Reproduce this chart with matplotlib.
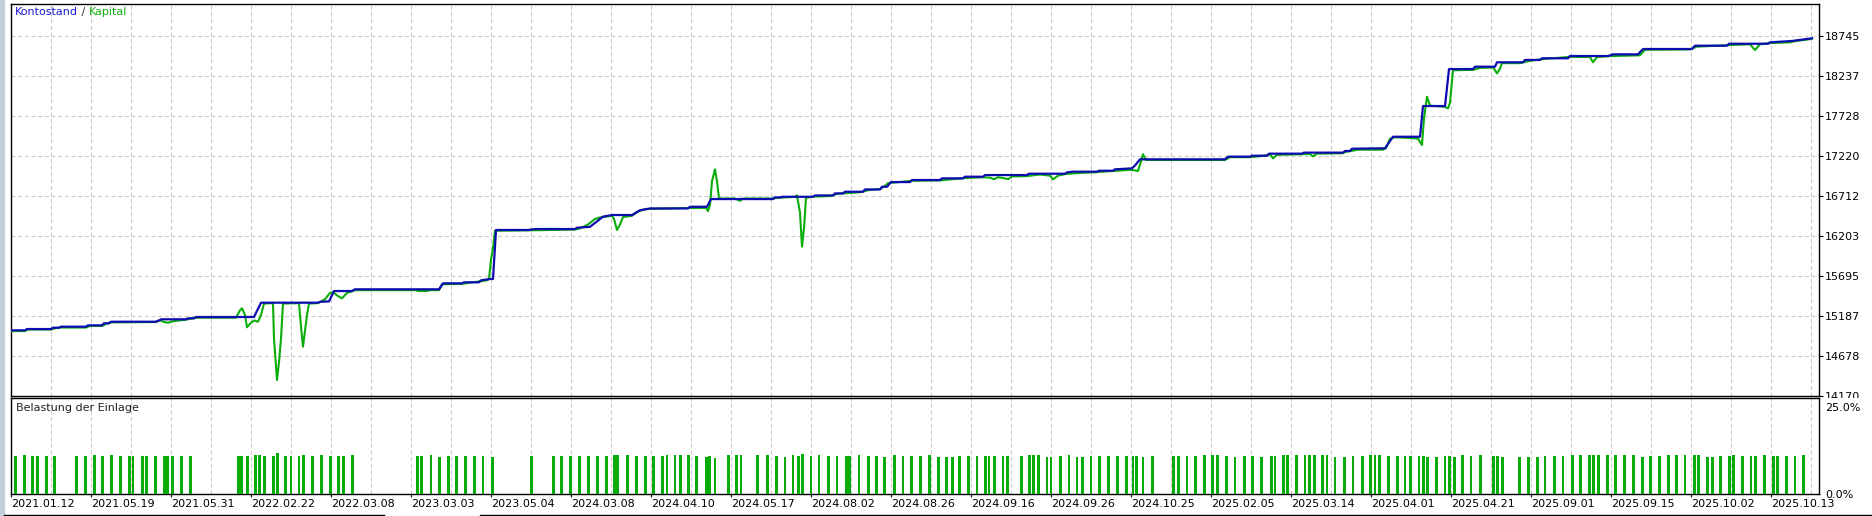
import numpy as np
import matplotlib
matplotlib.use('Agg')
import matplotlib.pyplot as plt
from matplotlib.transforms import Bbox, TransformedBbox

# x axis = deal sequence (MT5 tester draws deals evenly, not by time)
balance_x = [0, 3.5, 4, 10, 10.5, 12, 12.5, 18.75, 19.25, 22.75, 23.25, 24.5, 25,
             36.25, 36.75, 37, 37.5, 43.75, 44.25, 45.75, 46.25, 60.75, 62.5,
             76.75, 77.25, 79.5, 80.75, 85.25, 86, 107, 108, 112.75, 113.25, 117,
             117.5, 119.75, 120.5, 121.25, 129.25, 131, 141, 141.5, 144.75, 148,
             150.25, 155.25, 157.25, 159.75, 169.25, 169.75, 174, 175, 190.5, 191,
             192.5, 192.75, 200.5, 201, 205.5, 206, 208, 208.5, 213, 213.5, 217.25,
             217.75, 219, 220, 224.75, 225.25, 232.25, 232.75, 238, 238.5, 243,
             243.5, 254, 254.5, 263.5, 264, 265.5, 271.5, 272, 275.5, 276, 280.25,
             281, 282.25, 303.5, 304.25, 309.75, 310.25, 314, 314.5, 322.75, 323.25,
             333, 333.5, 334.75, 335.25, 343.5, 345.5, 352.25, 353, 358.5, 359.5,
             365.5, 366, 371, 371.5, 378, 378.5, 382.25, 382.75, 389.25, 389.75,
             399.25, 400.5, 406.75, 408, 420.25, 421, 429, 429.5, 439.25, 439.75,
             445.25, 448.5, 450.25]
balance = [15005, 15005, 15021, 15021, 15038, 15038, 15051, 15051, 15068, 15068, 15094,
           15094, 15114, 15114, 15127, 15127, 15145, 15145, 15157, 15157, 15174, 15174,
           15356, 15356, 15367, 15372, 15504, 15504, 15526, 15526, 15602, 15602, 15615,
           15615, 15640, 15657, 15657, 16280, 16280, 16292, 16292, 16309, 16320, 16449,
           16470, 16470, 16530, 16554, 16554, 16575, 16575, 16673, 16673, 16694, 16694,
           16702, 16702, 16719, 16719, 16745, 16745, 16766, 16766, 16795, 16795, 16829,
           16829, 16889, 16889, 16915, 16915, 16936, 16936, 16957, 16957, 16978, 16978,
           16995, 16995, 17012, 17021, 17021, 17033, 17033, 17051, 17063, 17100, 17178,
           17178, 17212, 17212, 17224, 17224, 17250, 17250, 17263, 17263, 17284, 17284,
           17313, 17318, 17465, 17465, 17855, 17855, 18325, 18325, 18355, 18355, 18411,
           18411, 18441, 18441, 18462, 18462, 18491, 18491, 18512, 18512, 18580, 18580,
           18622, 18622, 18647, 18647, 18665, 18682, 18704, 18716]

equity_x = [0, 3.5, 4.25, 10, 11, 12.25, 18.75, 19.75, 22.75, 23.75, 24.75, 36.25, 37.25,
            38, 39.25, 40.5, 43.75, 44.75, 46.25, 56.25, 57.25, 57.75, 58.5, 59, 60,
            60.75, 61.75, 62.5, 63.25, 65.5, 65.75, 66.5, 67, 67.5, 68, 72, 72.5, 73,
            73.5, 74, 74.5, 76.75, 78.5, 79.75, 80.5, 81.75, 82.75, 84, 85.25, 86,
            101.25, 101.75, 104, 104.75, 107, 107.75, 112.75, 114.75, 119, 119.5, 120,
            120.5, 121, 129.25, 141, 142.25, 144.25, 146, 147.25, 150.25, 150.75, 151.5,
            152.25, 153, 155.25, 156.5, 158.5, 169.75, 173.75, 174.25, 174.75, 175.25,
            176, 176.5, 177, 181, 182.25, 183, 190.25, 192.25, 196, 196.5, 197.25,
            197.75, 198.25, 198.75, 201, 204.75, 206.75, 212.25, 214.75, 217.25, 218.25,
            219.25, 225.25, 232.25, 238.5, 243, 244.75, 245.75, 246.75, 248, 249.25,
            250.25, 254, 257.25, 259.75, 260.5, 261.75, 263.5, 267.25, 271.5, 275.5,
            279.75, 281.25, 281.75, 282.5, 283, 283.75, 303.5, 304.75, 309.75, 312.75,
            314.75, 315.5, 316.5, 324.75, 325.5, 326.5, 333, 333.5, 336.75, 343, 343.75,
            344.75, 346, 349.75, 351.75, 352.25, 352.75, 353.25, 354, 354.75, 358.5,
            359.25, 359.75, 360.5, 365.5, 367.25, 370.5, 371, 371.5, 372.25, 372.75,
            377.25, 379.75, 383.5, 389.75, 394.75, 395.5, 396.5, 399.75, 407.25, 408.5,
            419.75, 421.5, 429.75, 434.75, 436, 437.25, 439.75, 444.75, 446, 449.75,
            450.25]
equity = [14995, 14995, 15015, 15015, 15030, 15040, 15040, 15060, 15060, 15085, 15105,
          15110, 15135, 15114, 15101, 15120, 15140, 15150, 15165, 15165, 15260, 15284,
          15200, 15043, 15100, 15130, 15114, 15200, 15345, 15350, 14900, 14373, 14600,
          14900, 15345, 15350, 15050, 14797, 15000, 15200, 15345, 15350, 15400, 15480,
          15490, 15440, 15411, 15480, 15500, 15515, 15515, 15505, 15505, 15515, 15515,
          15590, 15595, 15610, 15640, 15660, 15900, 16050, 16270, 16275, 16285, 16300,
          16350, 16420, 16440, 16460, 16420, 16280, 16350, 16445, 16460, 16510, 16545,
          16560, 16560, 16520, 16600, 16900, 17051, 16900, 16680, 16680, 16650, 16680,
          16680, 16690, 16700, 16720, 16500, 16068, 16300, 16690, 16705, 16710, 16740,
          16760, 16790, 16800, 16830, 16875, 16905, 16910, 16940, 16950, 16945, 16925,
          16950, 16940, 16925, 16960, 16965, 16985, 16970, 16923, 16970, 16990, 17005,
          17015, 17030, 17045, 17035, 17029, 17150, 17242, 17170, 17170, 17205, 17205,
          17220, 17238, 17190, 17235, 17245, 17215, 17250, 17255, 17270, 17300, 17300,
          17320, 17440, 17458, 17450, 17440, 17400, 17360, 17700, 17973, 17860, 17845,
          17825, 17900, 18310, 18315, 18340, 18345, 18310, 18270, 18330, 18400, 18400,
          18430, 18455, 18480, 18478, 18411, 18478, 18490, 18500, 18570, 18575, 18610,
          18630, 18640, 18567, 18640, 18655, 18665, 18680, 18705, 18712]

# deposit load, percent
load_x = [1.2, 3.4, 5.3, 6.7, 8.8, 10.9, 16.3, 18.6, 20.9, 22.9, 25.1, 27.4, 29.6, 30.5,
          32.8, 33.9, 36.1, 38.3, 39.2, 40.3, 42.6, 44.9, 56.8, 57.6, 59.2, 61.1, 62.2,
          63.3, 65.6, 66.7, 68.7, 70.0, 72.0, 73.2, 75.4, 77.6, 79.9, 81.9, 83.2, 85.4,
          101.6, 102.6, 105.0, 107.2, 109.3, 111.3, 113.6, 115.8, 118.0, 120.4, 130.1,
          135.7, 137.7, 139.9, 142.1, 144.4, 146.6, 148.8, 150.8, 151.7, 154.2, 156.4,
          158.6, 160.7, 162.9, 164.0, 166.0, 167.4, 169.4, 171.4, 173.8, 174.7, 176.0,
          179.3, 181.4, 182.5, 186.7, 189.1, 191.3, 193.5, 195.5, 196.8, 197.9, 200.0,
          202.0, 204.3, 206.5, 208.8, 209.7, 212.0, 214.3, 216.3, 218.4, 220.8, 223.0,
          225.1, 227.3, 229.6, 231.8, 233.8, 235.3, 237.2, 239.4, 241.5, 243.6, 244.5,
          245.8, 248.0, 249.1, 252.6, 254.6, 255.7, 256.8, 259.0, 260.0, 262.3, 264.5,
          266.5, 267.8, 270.0, 272.1, 274.3, 276.6, 278.8, 280.5, 281.3, 283.0, 285.3,
          290.7, 291.8, 294.0, 296.2, 298.3, 300.3, 301.7, 303.9, 306.0, 308.3, 310.4,
          312.6, 315.1, 316.0, 318.2, 319.1, 321.4, 323.5, 324.7, 325.8, 327.9, 329.0,
          331.0, 333.3, 335.5, 337.8, 339.8, 341.0, 342.1, 344.3, 346.6, 348.5, 349.8,
          352.0, 353.1, 354.1, 356.3, 358.5, 359.6, 360.8, 362.8, 365.0, 367.3, 370.6,
          371.6, 372.8, 377.1, 379.3, 381.6, 383.5, 385.8, 388.0, 390.3, 392.3, 394.6,
          395.6, 396.8, 399.1, 401.2, 403.3, 405.6, 407.8, 409.8, 412.1, 414.3, 416.4,
          418.5, 420.8, 421.8, 424.1, 425.3, 427.3, 429.6, 430.6, 432.8, 435.0, 436.1,
          438.3, 440.6, 441.6, 443.8, 446.0, 448.1]
load_pct = [9.9, 10.2, 9.9, 9.9, 9.9, 9.9, 9.9, 9.9, 10.2, 9.9, 10.2, 9.9, 9.9, 9.9,
            9.9, 9.9, 9.9, 9.9, 9.9, 9.9, 9.9, 9.9, 9.9, 9.9, 9.9, 10.2, 10.2,
            9.9, 9.9, 10.7, 9.9, 9.9, 9.9, 10.2, 9.9, 10.2, 9.9, 9.9, 9.9, 10.2,
            9.9, 9.9, 10.2, 9.6, 9.9, 9.9, 9.9, 9.9, 9.9, 9.6, 9.9,
            9.9, 9.9, 9.9, 9.9, 9.9, 9.9, 9.9, 10.2, 10.2, 10.2, 9.9,
            9.9, 9.9, 9.9, 10.2, 10.2, 10.2, 10.2, 9.9, 9.6, 9.9, 9.4,
            10.1, 10.1, 10.1, 10.1, 10.1, 9.9, 9.6, 10.1, 9.9, 10.4, 9.9,
            10.1, 9.9, 9.9, 9.9, 9.9, 10.1, 9.9, 9.9, 9.6, 10.1, 9.9,
            9.9, 9.9, 10.1, 9.6, 9.6, 9.6, 9.9, 9.9, 9.9, 9.9, 9.9,
            9.9, 9.9, 9.9, 9.9, 10.1, 10.1, 10.1, 9.6, 9.6, 9.9, 10.1,
            9.6, 9.6, 9.9, 9.9, 9.9, 9.9, 9.9, 9.9, 9.9, 9.6, 9.9,
            9.9, 9.9, 9.9, 9.9, 10.1, 10.1, 10.1, 9.9, 9.6, 9.9, 9.9,
            9.6, 9.9, 9.9, 10.1, 10.1, 10.1, 10.1, 10.1, 10.1, 10.1, 10.1,
            9.6, 9.6, 9.9, 9.9, 10.1, 10.1, 10.1, 9.9, 9.9, 9.9, 9.9,
            9.9, 9.9, 9.6, 9.6, 9.9, 9.9, 9.6, 10.1, 9.9, 10.1, 9.9,
            9.9, 9.6, 9.6, 9.6, 9.6, 9.9, 9.9, 9.9, 10.1, 10.1, 10.1,
            10.1, 10.1, 10.1, 10.1, 10.1, 10.1, 9.6, 9.9, 9.9, 10.1, 10.1,
            10.1, 10.1, 10.1, 9.6, 9.6, 9.9, 9.9, 10.1, 9.9, 9.9, 9.9,
            10.1, 9.9, 9.9, 9.9, 9.9, 10.1]

date_labels = ['2021.01.12', '2021.05.19', '2021.05.31', '2022.02.22', '2022.03.08',
               '2023.03.03', '2023.05.04', '2024.03.08', '2024.04.10', '2024.05.17',
               '2024.08.02', '2024.08.26', '2024.09.16', '2024.09.26', '2024.10.25',
               '2025.02.05', '2025.03.14', '2025.04.01', '2025.04.21', '2025.09.01',
               '2025.09.15', '2025.10.02', '2025.10.13']
value_ticks = [14170, 14678, 15187, 15695, 16203, 16712, 17220, 17728, 18237, 18745]

BLUE = '#0c0cb0'
GREEN = '#0aad0a'
GRID = '#c8c8c8'
W, H = 1872, 516

plt.rcParams['font.family'] = ['DejaVu Sans']
fig = plt.figure(figsize=(W / 100, H / 100), dpi=100)

# left strip of the terminal window and the tab bar line at the bottom
fig.patches.append(plt.Rectangle((0, 0), 4 / W, 1, transform=fig.transFigure,
                                 color='#c3cedb', zorder=0))
fig.add_artist(plt.Line2D([4 / W, 384 / W], [1.5 / H, 1.5 / H], color='black', lw=1))
fig.add_artist(plt.Line2D([480 / W, 1], [1.5 / H, 1.5 / H], color='black', lw=1))

ax = fig.add_axes([11 / W, 1 - 396 / H, 1808 / W, 392 / H])
ax2 = fig.add_axes([11 / W, 1 - 494 / H, 1808 / W, 96 / H])

xmax = 452
grid_kw = dict(color=GRID, linestyle=(0, (3.8, 2.6)), linewidth=0.75)

# top panel: balance / equity
ax.plot(equity_x, equity, color=GREEN, lw=1.5, zorder=3)
ax.plot(balance_x, balance, color=BLUE, lw=1.6, zorder=4)
ax.set_xlim(0, xmax)
ax.set_ylim(14170, 19152)
ax.set_xticks(np.arange(10, xmax, 10))
ax.set_yticks(value_ticks, [str(v) for v in value_ticks])
ax.yaxis.tick_right()
ax.tick_params(axis='x', length=0, labelbottom=False)
ax.tick_params(axis='y', direction='out', length=3, width=0.8, pad=1.5, labelsize=8)
ax.grid(True, **grid_kw)
ax.set_axisbelow(True)

t1 = ax.annotate('Kontostand', xy=(0, 1), xycoords='axes fraction', xytext=(3, -2.5),
                 textcoords='offset points', ha='left', va='top', fontsize=8, color='#1a1ad0')
t2 = ax.annotate(' / ', xy=(1, 0), xycoords=t1, ha='left', va='bottom', fontsize=8,
                 color='#333333')
ax.annotate('Kapital', xy=(1, 0), xycoords=t2, ha='left', va='bottom', fontsize=8,
            color='#10b010')

# lowest value label is cut off by the lower panel
lab = ax.get_yticklabels()[0]
lab.set_clip_box(TransformedBbox(Bbox.from_extents(0, 1 - 398 / H, 1, 1), fig.transFigure))
lab.set_clip_on(True)

# bottom panel: deposit load
ax2.bar(load_x, load_pct, width=0.7, color='#08ac08', zorder=3)
ax2.set_xlim(0, xmax)
ax2.set_ylim(0, 25)
ax2.set_xticks(np.arange(0, 450, 20), date_labels)
ax2.set_xticks(np.arange(10, xmax, 20), minor=True)
ax2.set_yticks([0], ['0.0%'])
ax2.yaxis.tick_right()
ax2.tick_params(axis='x', which='major', direction='out', length=2.5, width=0.8, pad=1,
                labelsize=8)
ax2.tick_params(axis='x', which='minor', length=0)
ax2.tick_params(axis='y', length=0, pad=4.5, labelsize=8)
for t in ax2.get_xticklabels():
    t.set_horizontalalignment('left')
ax2.annotate('25.0%', xy=(1, 1), xycoords='axes fraction', xytext=(4.5, -3.6),
             textcoords='offset points', ha='left', va='top', fontsize=8)
ax2.grid(True, axis='x', which='both', **grid_kw)
ax2.set_axisbelow(True)
ax2.text(0.003, 0.95, 'Belastung der Einlage', transform=ax2.transAxes, ha='left',
         va='top', fontsize=8, color='#222222')

for a in (ax, ax2):
    for s in a.spines.values():
        s.set_linewidth(1)
        s.set_color('black')

fig.savefig('out.png', dpi=100)
